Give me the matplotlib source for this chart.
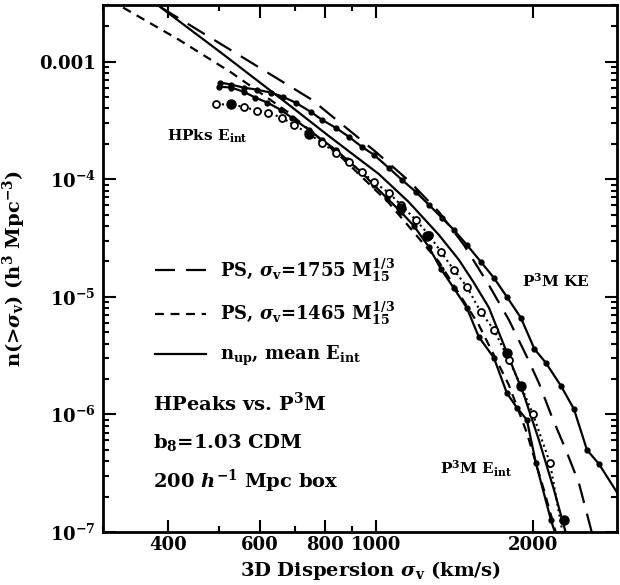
import numpy as np
import matplotlib
matplotlib.use("Agg")
import matplotlib.pyplot as plt
from matplotlib.ticker import FixedLocator, FixedFormatter, NullFormatter, LogLocator

plt.rcParams['font.family'] = 'DejaVu Serif'
plt.rcParams['font.weight'] = 'bold'
plt.rcParams['axes.labelweight'] = 'bold'
plt.rcParams['mathtext.fontset'] = 'dejavuserif'
plt.rcParams['mathtext.default'] = 'bf'

# P3M KE (small filled dots, solid)
ke_x = [504, 529, 558, 591, 629, 663, 702, 750, 788, 838, 888, 940, 991, 1059, 1122,
        1193, 1264, 1339, 1411, 1495, 1590, 1685, 1784, 1898, 2015, 2120, 2265, 2399,
        2541, 2679, 3059]
ke_y = [6.63e-4, 6.37e-4, 6.01e-4, 5.78e-4, 5.45e-4, 5.04e-4, 4.48e-4, 3.75e-4, 3.21e-4,
        2.74e-4, 2.30e-4, 1.89e-4, 1.62e-4, 1.25e-4, 9.9e-5, 7.83e-5, 6.07e-5, 4.70e-5,
        3.72e-5, 2.77e-5, 1.99e-5, 1.45e-5, 1.0e-5, 6.63e-6, 3.6e-6, 2.74e-6, 1.75e-6,
        1.11e-6, 4.99e-7, 3.79e-7, 1.5e-7]

# P3M E_int (small filled dots, solid)
ei_x = [500, 529, 558, 588, 620, 657, 690, 744, 788, 838, 880, 936, 991, 1049, 1117,
        1183, 1264, 1333, 1411, 1495, 1576, 1685, 1784, 1865, 1949, 2028, 2168, 2245]
ei_y = [6.13e-4, 6.01e-4, 5.55e-4, 4.94e-4, 4.48e-4, 3.90e-4, 3.34e-4, 2.64e-4, 2.17e-4,
        1.78e-4, 1.47e-4, 1.16e-4, 8.98e-5, 6.96e-5, 5.29e-5, 4.02e-5, 2.66e-5, 1.73e-5,
        1.19e-5, 8.06e-6, 4.57e-6, 3.03e-6, 1.52e-6, 1.14e-6, 8.98e-7, 3.87e-7, 1.26e-7,
        7.8e-8]

# HPks E_int (open circles, dotted)
hp_x = [495, 558, 591, 623, 660, 696, 744, 788, 838, 888, 940, 991, 1059, 1117, 1193,
        1264, 1333, 1411, 1495, 1590, 1685, 1800, 1898, 2001, 2158, 2290]
hp_y = [4.39e-4, 4.14e-4, 3.83e-4, 3.68e-4, 3.34e-4, 2.91e-4, 2.44e-4, 2.04e-4, 1.68e-4,
        1.40e-4, 1.16e-4, 9.52e-5, 7.67e-5, 6.07e-5, 4.52e-5, 3.37e-5, 2.42e-5, 1.70e-5,
        1.22e-5, 7.45e-6, 5.24e-6, 2.91e-6, 1.75e-6, 1.01e-6, 3.87e-7, 9e-8]

# large filled dots
bd_x = [527, 746, 1117, 1253, 1784, 1898, 2295]
bd_y = [4.39e-4, 2.44e-4, 5.72e-5, 3.30e-5, 3.34e-6, 1.75e-6, 1.26e-7]

# n_up, mean E_int (solid)
nup_x = [383, 511, 681, 812, 1013, 1157, 1321, 1443, 1542, 1648, 1776, 1923, 2055,
         2197, 2315]
nup_y = [3.0e-3, 1.147e-3, 4.31e-4, 2.34e-4, 1.11e-4, 6.4e-5, 3.37e-5, 2.07e-5,
         1.32e-5, 8.1e-6, 3.54e-6, 1.47e-6, 6.07e-7, 2.28e-7, 9.8e-8]

# PS, sigma=1755 (long dash)
ps1_x = [388, 541, 754, 868, 1000, 1157, 1321, 1475, 1648, 1800, 1949, 2055, 2177,
         2315, 2452, 2598]
ps1_y = [2.88e-3, 1.17e-3, 4.75e-4, 2.85e-4, 1.71e-4, 9.71e-5, 5.29e-5, 2.77e-5,
         1.26e-5, 6.37e-6, 3.09e-6, 1.85e-6, 9.52e-7, 4.99e-7, 2.61e-7, 9.8e-8]

# PS, sigma=1465 (short dash)
ps2_x = [328, 419, 529, 681, 849, 1059, 1321, 1576, 1800, 1949, 2101, 2216]
ps2_y = [2.88e-3, 1.54e-3, 8.06e-4, 3.68e-4, 1.62e-4, 6.31e-5, 1.99e-5, 5.78e-6,
         1.78e-6, 6.96e-7, 2.28e-7, 9.8e-8]

xticks = [400, 600, 800, 1000, 2000]
xtick_labels = ['400', '600', '800', '1000', '2000']
yticks = [1e-7, 1e-6, 1e-5, 1e-4, 1e-3]
ytick_labels = [r'$10^{-7}$', r'$10^{-6}$', r'$10^{-5}$', r'$10^{-4}$', '0.001']

fig = plt.figure(figsize=(6.2, 5.85), dpi=100)
ax = fig.add_axes([0.166, 0.0906, 0.829, 0.9])

lw = 1.6
ax.plot(ps1_x, ps1_y, color='black', lw=lw, dashes=(9, 5),
        label=r'PS, $\mathit{\sigma}_{v}$=1755 M$_{15}^{1/3}$')
ax.plot(ps2_x, ps2_y, color='black', lw=lw, dashes=(4, 3),
        label=r'PS, $\mathit{\sigma}_{v}$=1465 M$_{15}^{1/3}$')
ax.plot(nup_x, nup_y, color='black', lw=lw, label=r'n$_{up}$, mean E$_{int}$')
ax.plot(ke_x, ke_y, color='black', lw=lw, marker='o', ms=3.5)
ax.plot(ei_x, ei_y, color='black', lw=lw, marker='o', ms=3.5)
ax.plot(hp_x, hp_y, color='black', lw=1.5, ls=':', marker='o', ms=5,
        mfc='white', mec='black', mew=1.3)
ax.plot(bd_x, bd_y, ls='none', marker='o', ms=6.5, color='black')

ax.set_xscale('log')
ax.set_yscale('log')
ax.set_xlim(300, 2900)
ax.set_ylim(1e-7, 3e-3)

ax.xaxis.set_major_locator(FixedLocator(xticks))
ax.xaxis.set_major_formatter(FixedFormatter(xtick_labels))
ax.xaxis.set_minor_locator(FixedLocator([300, 500, 700, 900, 3000]))
ax.xaxis.set_minor_formatter(NullFormatter())
ax.yaxis.set_major_locator(FixedLocator(yticks))
ax.yaxis.set_major_formatter(FixedFormatter(ytick_labels))
ax.yaxis.set_minor_locator(LogLocator(base=10, subs=np.arange(2, 10)))
ax.yaxis.set_minor_formatter(NullFormatter())

ax.tick_params(which='both', direction='in', top=True, right=True, width=1.5,
               labelsize=13)
ax.tick_params(axis='x', pad=3)
ax.tick_params(axis='y', pad=5)
ax.tick_params(which='major', length=9)
ax.tick_params(which='minor', length=4.5)
for s in ax.spines.values():
    s.set_linewidth(2)

ax.set_xlabel(r'3D Dispersion $\mathit{\sigma}_{v}$ (km/s)', fontsize=14)
ax.set_ylabel(r'n(>$\mathit{\sigma}_{v}$) (h$^3$ Mpc$^{-3}$)', fontsize=14)
ax.xaxis.set_label_coords(0.52, -0.052)
ax.yaxis.set_label_coords(-0.145, 0.5)

ax.legend(loc='center left', bbox_to_anchor=(0.07, 0.418), frameon=False,
          fontsize=13, handlelength=2.8, labelspacing=0.9, handletextpad=0.8)

tk = dict(transform=ax.transAxes, fontsize=11, fontweight='bold')
ax.text(0.125, 0.744, r'HPks E$_{int}$', **tk)
ax.text(0.815, 0.465, r'P$^3$M KE', **tk)
ax.text(0.656, 0.11, r'P$^3$M E$_{int}$', **tk)

tt = dict(transform=ax.transAxes, fontsize=14, fontweight='bold', va='center')
ax.text(0.097, 0.245, r'HPeaks vs. P$^3$M', **tt)
ax.text(0.097, 0.170, r'b$_8$=1.03 CDM', **tt)
ax.text(0.097, 0.096, r'200 $\mathit{h}^{-1}$ Mpc box', **tt)

fig.savefig('out.png', dpi=100)
